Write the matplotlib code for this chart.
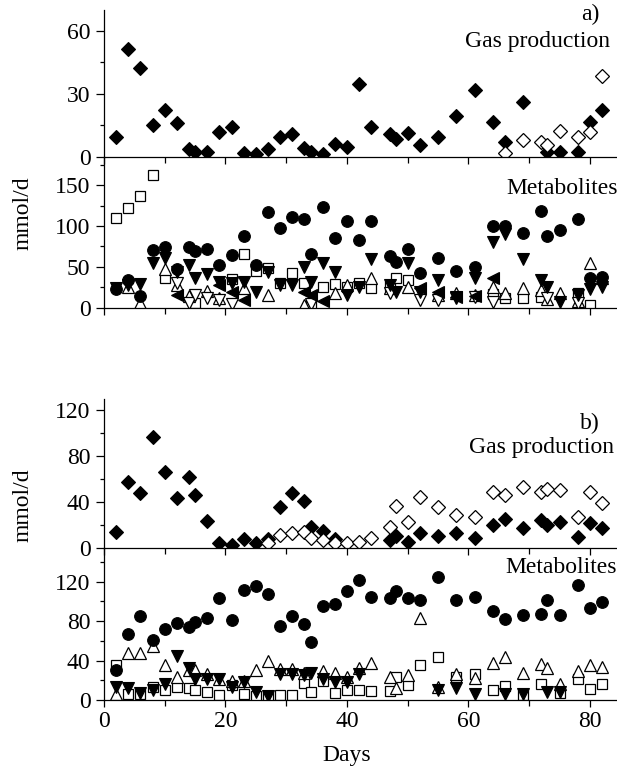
import matplotlib
matplotlib.use("Agg")
import matplotlib.pyplot as plt
from matplotlib.ticker import MultipleLocator

plt.rcParams['font.family'] = ['Liberation Serif', 'DejaVu Serif']
plt.rcParams['font.size'] = 17

# ---------------- reactor a ----------------
# gas production, filled / open diamonds
gas_a_days = [2, 4, 6, 8, 10, 12, 14, 15, 17, 19, 21, 23, 25, 27, 29, 31, 33, 34, 36, 38,
              40, 42, 44, 47, 48, 50, 52, 55, 58, 61, 64, 66, 69, 73, 75, 78, 80, 82]
gas_a_full = [9.6, 51.3, 42.2, 15.1, 22.3, 15.9, 3.7, 2.4, 2.4, 12.0, 14.3, 1.9, 1.3, 3.7, 9.6, 10.8, 4.3, 2.4, 1.3, 6.1,
              4.8, 34.7, 14.0, 10.8, 8.3, 11.2, 5.6, 9.6, 19.6, 31.9, 16.7, 7.2, 26.3, 2.4, 2.4, 2.4, 16.7, 22.3]
gas_a_open_days = [66, 69, 72, 73, 75, 78, 80, 82]
gas_a_open = [1.6, 8.0, 7.2, 5.6, 12.4, 9.3, 11.6, 38.5]

# metabolites
met_a_circ_days = [2, 4, 6, 8, 10, 12, 14, 15, 17, 19, 21, 23, 25, 27, 29, 31, 33, 34, 36, 38,
                   40, 42, 44, 47, 48, 50, 52, 55, 58, 61, 64, 66, 69, 72, 73, 75, 78, 80, 82]
met_a_circ = [22.4, 33.8, 14.7, 71.3, 74.6, 46.9, 74.6, 69.7, 71.7, 52.2, 64.4, 88.0, 52.2, 117.4, 98.2, 111.2, 108.4, 65.2, 123.5, 86.0,
              106.0, 83.5, 106.0, 63.2, 56.2, 72.5, 42.8, 61.5, 45.2, 50.1, 99.8, 99.8, 91.7, 118.6, 87.6, 95.0, 108.4, 37.0, 37.9]

met_a_down_days = [2, 4, 6, 8, 10, 12, 14, 15, 17, 19, 21, 23, 25, 27, 29, 31, 33, 34, 36, 38,
                   40, 42, 44, 47, 48, 50, 52, 55, 58, 61, 64, 66, 69, 72, 73, 75, 78, 80, 82]
met_a_down = [23.6, 27.7, 28.9, 54.2, 61.5, 44.0, 52.2, 37.0, 41.2, 31.8, 30.6, 31.8, 19.6, 44.0, 27.7, 27.7, 50.1, 31.8, 55.0, 44.0,
              15.5, 25.7, 60.0, 27.7, 19.6, 55.0, 19.6, 33.8, 13.4, 37.0, 80.7, 90.9, 59.1, 33.8, 25.7, 7.3, 15.5, 22.4, 24.9]

met_a_sq_days = [2, 4, 6, 8, 10, 15, 21, 23, 25, 27, 29, 31, 33, 34, 36, 38, 40, 42, 44, 47,
                 48, 50, 64, 66, 69, 72, 78, 80]
met_a_sq = [110.4, 122.7, 136.5, 162.2, 36.7, 5.3, 34.6, 65.2, 44.8, 48.9, 29.7, 42.0, 30.6, 4.0, 25.7, 28.5, 25.7, 30.6, 23.6, 27.0,
            35.9, 33.8, 16.7, 11.4, 11.4, 13.4, 17.5, 3.3]

met_a_up_days = [4, 6, 10, 12, 14, 17, 19, 23, 27, 33, 38, 40, 44, 47, 50, 55, 58, 61, 64, 66,
                 69, 72, 73, 75, 78, 80, 82]
met_a_up = [25.0, 5.3, 48.0, 27.7, 14.3, 20.8, 11.4, 23.6, 15.5, 3.3, 18.3, 27.7, 35.9, 24.0, 25.7, 15.0, 17.5, 15.5, 25.7, 17.5,
            23.6, 21.6, 10.2, 17.5, 8.0, 55.0, 37.0]

met_a_vopen_days = [12, 14, 15, 17, 19, 21, 34, 47, 52, 55, 58, 61, 64, 73, 78]
met_a_vopen = [29.7, 5.3, 15.5, 11.4, 9.4, 5.0, 5.0, 17.5, 9.4, 10.0, 12.0, 13.4, 7.3, 12.0, 6.0]

met_a_left_days = [12, 19, 21, 23, 33, 34, 36, 52, 55, 58, 61, 64]
met_a_left = [15.5, 27.7, 19.6, 9.4, 19.6, 15.5, 8.6, 23.6, 19.6, 13.0, 14.0, 37.0]

# ---------------- reactor b ----------------
gas_b_days = [2, 4, 6, 8, 10, 12, 14, 15, 17, 19, 21, 23, 25, 27, 29, 31, 33, 34, 36, 38,
              47, 48, 50, 52, 55, 58, 61, 64, 66, 69, 72, 73, 75, 78, 80, 82]
gas_b_full = [13.9, 57.9, 47.9, 97.2, 66.7, 43.5, 62.4, 46.4, 24.0, 4.3, 2.9, 8.1, 4.9, 8.1, 36.3, 47.9, 41.5, 18.9, 15.4, 7.8,
              7.2, 10.7, 5.8, 13.1, 10.7, 13.1, 9.2, 20.3, 25.3, 17.4, 24.6, 20.3, 22.6, 10.1, 21.8, 17.4]
gas_b_open_days = [27, 29, 31, 33, 34, 36, 38, 40, 42, 44, 47, 48, 50, 52, 55, 58, 61, 64, 66, 69,
                   72, 73, 75, 78, 80, 82]
gas_b_open = [4.3, 11.6, 13.1, 14.5, 8.7, 7.2, 4.9, 4.3, 5.8, 8.7, 18.9, 37.1, 23.2, 44.9, 36.3, 29.0, 27.6, 48.8, 46.4, 53.1,
              49.3, 51.4, 50.8, 27.6, 48.8, 39.7]

met_b_circ_days = [2, 4, 6, 8, 10, 12, 14, 15, 17, 19, 21, 23, 25, 27, 29, 31, 33, 34, 36, 38,
                   40, 42, 44, 47, 48, 50, 52, 55, 58, 61, 64, 66, 69, 72, 73, 75, 78, 80, 82]
met_b_circ = [30.5, 66.8, 85.4, 61.0, 72.2, 78.0, 73.9, 79.0, 83.7, 104.0, 81.4, 111.9, 115.3, 107.5, 75.3, 85.4, 77.3, 58.6, 94.9, 97.3,
              110.2, 121.4, 105.0, 103.4, 110.8, 104.0, 101.0, 124.7, 101.0, 105.0, 89.8, 82.4, 85.8, 87.5, 101.7, 85.8, 117.0, 93.2, 99.3]

met_b_up_days = [2, 4, 6, 8, 10, 12, 14, 15, 17, 19, 21, 23, 25, 27, 29, 31, 33, 36, 38, 40,
                 42, 44, 47, 48, 50, 52, 55, 58, 61, 64, 66, 69, 72, 73, 75, 78, 80, 82]
met_b_up = [6.0, 48.1, 47.5, 54.9, 35.6, 23.1, 30.5, 30.5, 26.1, 21.4, 19.3, 19.3, 30.5, 39.7, 31.2, 31.2, 27.1, 29.5, 27.1, 23.7,
            32.9, 37.3, 23.7, 12.5, 25.4, 83.0, 13.6, 26.1, 22.0, 38.0, 44.0, 27.1, 36.3, 32.2, 15.9, 29.8, 35.6, 33.2]

met_b_down_days = [2, 4, 6, 8, 10, 12, 14, 15, 17, 19, 21, 23, 25, 27, 29, 31, 33, 34, 36, 38,
                   40, 42, 55, 58, 61, 66, 69, 73, 75]
met_b_down = [12.9, 11.9, 7.5, 10.2, 15.9, 44.7, 32.2, 21.4, 21.4, 21.4, 12.9, 18.6, 8.5, 4.4, 26.1, 26.1, 25.4, 27.1, 21.4, 18.0,
              18.0, 26.1, 10.2, 11.9, 5.8, 5.8, 5.8, 8.5, 8.5]

met_b_sq_days = [2, 4, 6, 8, 10, 12, 14, 15, 17, 19, 21, 23, 25, 27, 29, 31, 33, 34, 36, 38,
                 40, 42, 44, 47, 48, 50, 52, 55, 58, 61, 64, 66, 69, 72, 75, 78, 80, 82]
met_b_sq = [35.6, 5.8, 5.8, 13.6, 10.2, 13.6, 11.9, 10.2, 7.8, 5.1, 15.3, 5.8, 4.4, 4.1, 5.1, 5.1, 17.0, 7.8, 19.3, 6.8,
            10.2, 10.2, 9.2, 9.2, 23.7, 15.3, 35.6, 43.4, 23.7, 26.1, 10.2, 14.2, 5.1, 15.9, 6.8, 21.4, 11.2, 16.3]

# marker styles
full_kw = dict(ls='none', mfc='black', mec='black', mew=0.8)
open_kw = dict(ls='none', mfc='white', mec='black', mew=0.9)

fig = plt.figure(figsize=(6.17, 7.67), dpi=100)
left = 104 / 617
width = 1 - left
ax_ga = fig.add_axes([left, 0.7957, width, 0.1913])
ax_ma = fig.add_axes([left, 0.5988, width, 0.1969])
ax_gb = fig.add_axes([left, 0.2851, width, 0.1947])
ax_mb = fig.add_axes([left, 0.0874, width, 0.1978])

for ax in (ax_ga, ax_ma, ax_gb, ax_mb):
    ax.set_xlim(0, 84.45)
    ax.spines['top'].set_visible(False)
    ax.spines['right'].set_visible(False)
    ax.spines['left'].set_linewidth(0.9)
    ax.spines['bottom'].set_linewidth(0.9)
    ax.xaxis.set_major_locator(MultipleLocator(20))
    ax.xaxis.set_minor_locator(MultipleLocator(10))
    ax.tick_params(axis='y', which='major', direction='out', length=5.8, width=0.9, pad=4)
    ax.tick_params(axis='y', which='minor', direction='out', length=3, width=0.9)
    ax.tick_params(axis='x', which='major', direction='out', length=5, width=0.9, pad=3)
    ax.tick_params(axis='x', which='minor', direction='out', length=4, width=0.9)
    ax.patch.set_alpha(0)

for ax in (ax_ga, ax_ma, ax_gb):
    ax.tick_params(axis='x', labelbottom=False)

# gas a
ax_ga.plot(gas_a_days, gas_a_full, marker='D', ms=7.0, **full_kw)
ax_ga.plot(gas_a_open_days, gas_a_open, marker='D', ms=6.8, **open_kw)
ax_ga.set_ylim(0, 70)
ax_ga.yaxis.set_major_locator(MultipleLocator(30))
ax_ga.yaxis.set_minor_locator(MultipleLocator(15))
ax_ga.text(81.6, 67.7, 'a)', ha='right', va='center')
ax_ga.text(83.3, 54.8, 'Gas production', ha='right', va='center')

# metabolites a
ax_ma.plot(met_a_sq_days, met_a_sq, marker='s', ms=6.7, **open_kw)
ax_ma.plot(met_a_up_days, met_a_up, marker='^', ms=8.6, **open_kw)
ax_ma.plot(met_a_vopen_days, met_a_vopen, marker='v', ms=8.6, **open_kw)
ax_ma.plot(met_a_down_days, met_a_down, marker='v', ms=9.0, **full_kw)
ax_ma.plot(met_a_left_days, met_a_left, marker='<', ms=9.0, **full_kw)
ax_ma.plot(met_a_circ_days, met_a_circ, marker='o', ms=8.4, **full_kw)
ax_ma.set_ylim(0, 185)
ax_ma.yaxis.set_major_locator(MultipleLocator(50))
ax_ma.yaxis.set_minor_locator(MultipleLocator(25))
ax_ma.text(66.3, 146.3, 'Metabolites', ha='left', va='center', clip_on=False)

# gas b
ax_gb.plot(gas_b_days, gas_b_full, marker='D', ms=7.0, **full_kw)
ax_gb.plot(gas_b_open_days, gas_b_open, marker='D', ms=6.8, **open_kw)
ax_gb.set_ylim(0, 130)
ax_gb.yaxis.set_major_locator(MultipleLocator(40))
ax_gb.yaxis.set_minor_locator(MultipleLocator(20))
ax_gb.text(81.6, 109, 'b)', ha='right', va='center')
ax_gb.text(83.9, 88.2, 'Gas production', ha='right', va='center')

# metabolites b
ax_mb.plot(met_b_sq_days, met_b_sq, marker='s', ms=6.7, **open_kw)
ax_mb.plot(met_b_up_days, met_b_up, marker='^', ms=8.6, **open_kw)
ax_mb.plot(met_b_down_days, met_b_down, marker='v', ms=9.0, **full_kw)
ax_mb.plot(met_b_circ_days, met_b_circ, marker='o', ms=8.4, **full_kw)
ax_mb.set_ylim(0, 154)
ax_mb.yaxis.set_major_locator(MultipleLocator(40))
ax_mb.yaxis.set_minor_locator(MultipleLocator(20))
ax_mb.text(66.0, 134.3, 'Metabolites', ha='left', va='center', clip_on=False)

fig.text(23 / 617, 1 - 213 / 767, 'mmol/d', rotation=90, ha='center', va='center')
fig.text(23 / 617, 1 - 505 / 767, 'mmol/d', rotation=90, ha='center', va='center')
fig.text(347 / 617, 1 - 755 / 767, 'Days', ha='center', va='center')

fig.savefig('out.png', dpi=100)
